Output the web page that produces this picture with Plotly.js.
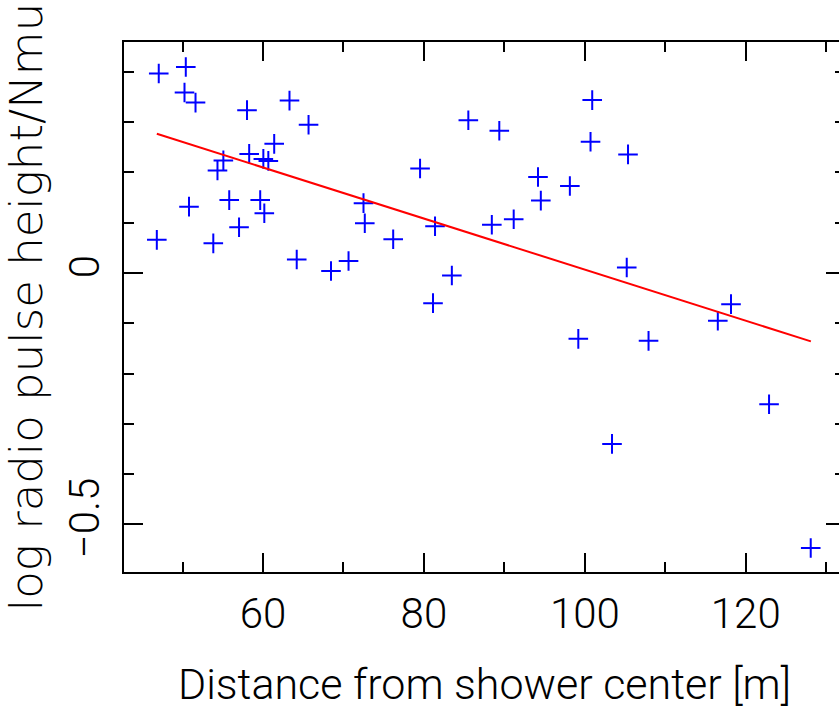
<!DOCTYPE html>
<html>
<head>
<meta charset="utf-8">
<script src="https://cdn.plot.ly/plotly-3.0.1.min.js"></script>
<style>
html,body{margin:0;padding:0;overflow:hidden;background:#fff;}
#chart{width:860px;height:726px;}
</style>
</head>
<body>
<div id="chart"></div>
<script>
// Distance from shower center [m]
const distance = [
  47.04, 50.40, 50.24, 51.61, 58.01, 63.29, 65.66, 61.39, 58.28, 55.07,
  54.34, 60.04, 60.66, 50.80, 55.80, 59.65, 60.16, 57.02, 46.80, 53.82,
  64.19, 68.45, 70.63, 72.49, 72.65, 76.18, 79.52, 81.38, 83.47, 81.13,
  85.52, 89.37, 88.44, 91.16, 94.18, 94.53, 98.14, 100.92, 100.71, 105.37,
  105.21, 99.19, 107.92, 103.38, 116.53, 118.17, 122.90, 128.08
];
// log radio pulse height / Nmu
const logPulse = [
  0.397, 0.410, 0.359, 0.339, 0.324, 0.343, 0.295, 0.257, 0.237, 0.224,
  0.204, 0.227, 0.223, 0.132, 0.145, 0.145, 0.119, 0.091, 0.066, 0.059,
  0.027, 0.004, 0.024, 0.139, 0.099, 0.067, 0.208, 0.093, -0.005, -0.060,
  0.304, 0.283, 0.096, 0.107, 0.191, 0.144, 0.173, 0.344, 0.261, 0.236,
  0.011, -0.131, -0.135, -0.340, -0.095, -0.062, -0.261, -0.547
];
// fitted line end points
const fitX = [46.8, 128.1];
const fitY = [0.277, -0.136];

const xTickVals = [60, 80, 100, 120];
const xTickText = ["60", "80", "100", "120"];
const yTickVals = [-0.5, 0];
const yTickText = ["\u22120.5", "0"];

const TICKFONT = "Roboto, Liberation Sans, Arial, sans-serif";
const XTFONT = "Roboto, Liberation Sans, Arial, sans-serif";
const YTFONT = "DejaVu Sans, sans-serif";

const traces = [
  {
    x: distance, y: logPulse, type: "scatter", mode: "markers",
    marker: {symbol: "cross-thin", size: 14, color: "#0000ff",
             line: {color: "#0000ff", width: 2}},
    hoverinfo: "skip"
  },
  {
    x: fitX, y: fitY, type: "scatter", mode: "lines",
    line: {color: "#ff0000", width: 2},
    hoverinfo: "skip"
  }
];

const layout = {
  width: 860, height: 726,
  margin: {l: 124, r: 15, t: 42, b: 154},
  paper_bgcolor: "#ffffff", plot_bgcolor: "#ffffff",
  showlegend: false,
  font: {family: TICKFONT, color: "#000000", size: 42},
  xaxis: {
    range: [42.72, 132.34],
    showgrid: false, zeroline: false,
    showline: true, linecolor: "#000", linewidth: 2, mirror: "allticks",
    ticks: "inside", ticklen: 19, tickwidth: 2, tickcolor: "#000",
    tickmode: "array", tickvals: xTickVals, ticktext: xTickText,
    tickfont: {family: TICKFONT, size: 42, color: "#000", weight: 300},
    ticklabelstandoff: 4,
    minor: {dtick: 10, tick0: 0, ticks: "inside", ticklen: 10, tickwidth: 2, tickcolor: "#000", showgrid: false},
    title: {text: "Distance from shower center [m]", font: {family: XTFONT, size: 43, color: "#000", weight: 300}, standoff: 31}
  },
  yaxis: {
    range: [-0.5949, 0.4596],
    showgrid: false, zeroline: false,
    showline: true, linecolor: "#000", linewidth: 2, mirror: "allticks",
    ticks: "inside", ticklen: 19, tickwidth: 2, tickcolor: "#000",
    tickmode: "array", tickvals: yTickVals, ticktext: yTickText,
    tickangle: -90,
    tickfont: {family: TICKFONT, size: 42, color: "#000", weight: 300},
    ticklabelstandoff: 6,
    minor: {dtick: 0.1, tick0: 0, ticks: "inside", ticklen: 10, tickwidth: 2, tickcolor: "#000", showgrid: false},
    title: {text: "log radio pulse height/Nmu", font: {family: YTFONT, size: 45, color: "#000", weight: 200}, standoff: 6}
  }
};

Plotly.newPlot("chart", traces, layout, {displayModeBar: false, staticPlot: true});
</script>
</body>
</html>
